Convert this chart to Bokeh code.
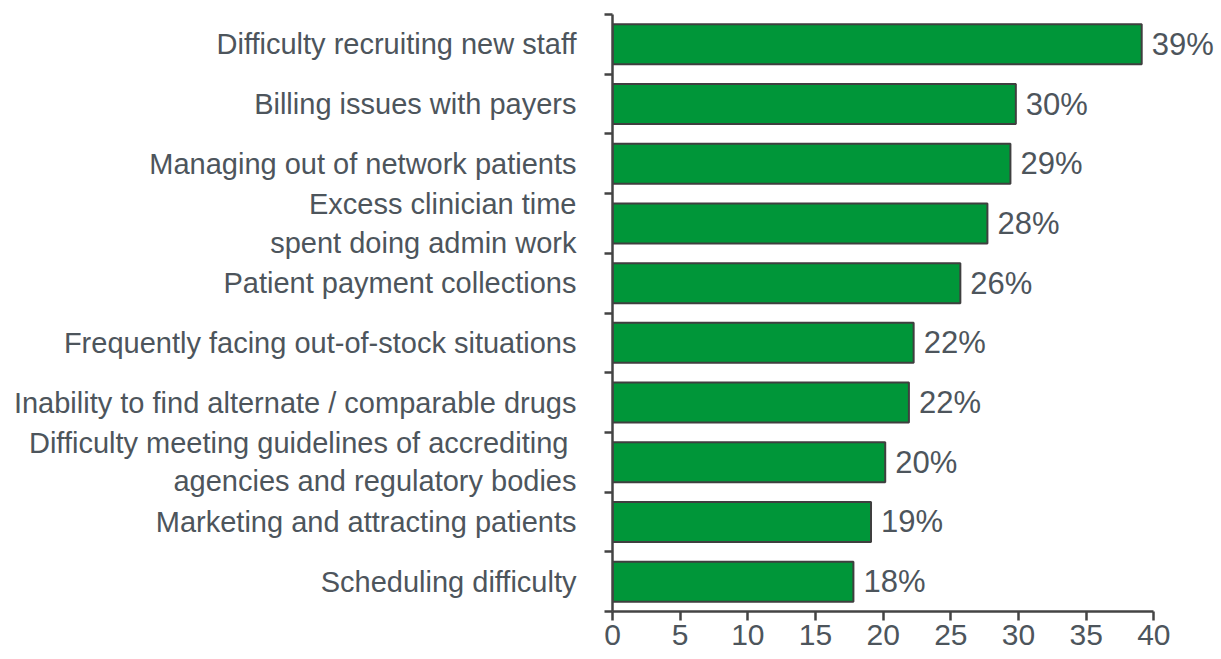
from bokeh.plotting import figure
from bokeh.models import FixedTicker, Range1d, ColumnDataSource
from bokeh.core.properties import value
from bokeh.embed import file_html
from bokeh.resources import INLINE

categories = [
    "Difficulty recruiting new staff",
    "Billing issues with payers",
    "Managing out of network patients",
    "Excess clinician time\nspent doing admin work",
    "Patient payment collections",
    "Frequently facing out-of-stock situations",
    "Inability to find alternate / comparable drugs",
    "Difficulty meeting guidelines of accrediting \nagencies and regulatory bodies",
    "Marketing and attracting patients",
    "Scheduling difficulty",
]
values = [39.1, 29.8, 29.4, 27.7, 25.7, 22.25, 21.9, 20.15, 19.1, 17.8]
value_labels = ["39%", "30%", "29%", "28%", "26%", "22%", "22%", "20%", "19%", "18%"]
x_ticks = [0, 5, 10, 15, 20, 25, 30, 35, 40]

n = len(categories)
ypos = [n - 0.5 - i for i in range(n)]
boundaries = list(range(0, n + 1))

FONT = "Liberation Sans"
TEXT_COLOR = "#4d555c"
AXIS_COLOR = "#444444"

src = ColumnDataSource(dict(y=ypos, v=values, lab=value_labels))

p = figure(
    frame_width=605, frame_height=597,
    x_range=Range1d(0, 44.7), y_range=Range1d(0, n),
    output_backend="svg", toolbar_location=None,
    min_border_left=612, min_border_right=0, min_border_top=14, min_border_bottom=46,
)
p.outline_line_color = None
p.xgrid.visible = False
p.ygrid.visible = False

p.hbar(y="y", left=0, right="v", height=0.67, source=src,
       fill_color="#009639", line_color="#3f3f3f", line_width=2)

p.text(x="v", y="y", text="lab", source=src, x_offset=10,
       text_baseline="middle", text_align="left",
       text_font=value(FONT), text_font_size="31px", text_color=TEXT_COLOR)

# y axis
ya = p.yaxis[0]
ya.ticker = FixedTicker(ticks=ypos, minor_ticks=boundaries)
ya.major_label_overrides = {y: c for y, c in zip(ypos, categories)}
ya.major_tick_out = 0
ya.major_tick_in = 0
ya.minor_tick_out = 8
ya.minor_tick_in = 0
ya.minor_tick_line_width = 2.5
ya.minor_tick_line_color = AXIS_COLOR
ya.axis_line_width = 2.5
ya.axis_line_color = AXIS_COLOR
ya.major_label_standoff = 28
ya.major_label_text_font = FONT
ya.major_label_text_font_size = "29px"
ya.major_label_text_color = TEXT_COLOR

# x axis
xa = p.xaxis[0]
xa.ticker = FixedTicker(ticks=x_ticks, minor_ticks=[])
xa.bounds = (0, 40)
xa.major_tick_out = 9
xa.major_tick_in = 0
xa.major_tick_line_width = 2.5
xa.major_tick_line_color = AXIS_COLOR
xa.axis_line_width = 2.5
xa.axis_line_color = AXIS_COLOR
xa.major_label_standoff = 4
xa.major_label_text_font = FONT
xa.major_label_text_font_size = "30px"
xa.major_label_text_color = TEXT_COLOR

open("out.html", "w").write(file_html(p, INLINE))
